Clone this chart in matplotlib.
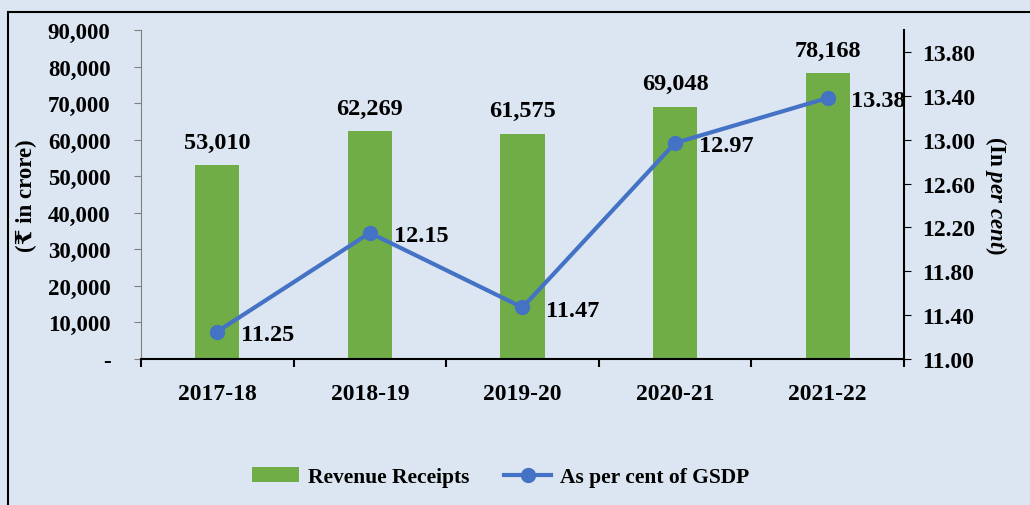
import numpy as np
import matplotlib.pyplot as plt
from matplotlib.patches import Rectangle
from matplotlib.ticker import FuncFormatter, FixedLocator

plt.rcParams['font.family'] = ['Liberation Serif', 'DejaVu Serif']
plt.rcParams['font.weight'] = 'bold'
plt.rcParams['mathtext.fontset'] = 'custom'
plt.rcParams['mathtext.it'] = 'Liberation Serif:italic:bold'
plt.rcParams['mathtext.rm'] = 'Liberation Serif:bold'

years = ['2017-18', '2018-19', '2019-20', '2020-21', '2021-22']
receipts = [53010, 62269, 61575, 69048, 78168]
pct_gsdp = [11.25, 12.15, 11.47, 12.97, 13.38]

bg = '#DCE6F2'
green = '#70AD47'
blue = '#4472C4'

fig = plt.figure(figsize=(10.30, 5.06), dpi=100, facecolor=bg)
fig.patches.append(Rectangle((8 / 1030, -0.05), 1.2, 1.05 - 13 / 506,
                             transform=fig.transFigure, fill=False,
                             edgecolor='black', linewidth=1.5))

ax = fig.add_axes([141 / 1030, 1 - 360 / 506, 763 / 1030, 329 / 506])
ax.set_facecolor(bg)
x = np.arange(len(years))
bars = ax.bar(x, receipts, width=0.29, color=green, label='Revenue Receipts', zorder=2)
ax.set_xlim(-0.5, len(years) - 0.5)
ax.set_ylim(0, 90000)
ax.set_yticks(np.arange(0, 90001, 10000))
ax.yaxis.set_major_formatter(FuncFormatter(lambda v, p: '-' if v == 0 else f'{int(v):,}'))
ax.set_xticks(x)
ax.set_xticklabels(years)
ax.xaxis.set_minor_locator(FixedLocator(np.arange(-0.5, len(years), 1)))
ax.tick_params(axis='x', which='major', length=0, pad=17, labelsize=17)
ax.tick_params(axis='x', which='minor', length=6, width=1.5, direction='out')
ax.tick_params(axis='y', length=5, color='#808080', labelsize=16.5, pad=17)
for s in ['top', 'right']:
    ax.spines[s].set_visible(False)
ax.spines['left'].set_color('#808080')
ax.spines['bottom'].set_linewidth(1.5)
ax.set_ylabel('(₹ in crore)', fontsize=16.5, fontweight='bold', labelpad=8)

for xi, v in zip(x, receipts):
    ax.annotate(f'{v:,}', (xi, v), xytext=(0, 9), textcoords='offset points',
                ha='center', va='bottom', fontsize=17.5, fontweight='bold')

ax2 = ax.twinx()
ax2.set_ylim(11.0, 14.0)
ax2.set_yticks(np.arange(11.0, 13.81, 0.4))
ax2.yaxis.set_major_formatter(FuncFormatter(lambda v, p: f'{v:.2f}'))
ax2.tick_params(axis='y', length=5, labelsize=17, pad=8)
for s in ['top', 'left', 'bottom']:
    ax2.spines[s].set_visible(False)
ax2.spines['right'].set_linewidth(1.5)
line, = ax2.plot(x, pct_gsdp, color=blue, linewidth=3, marker='o', markersize=10,
                 label='As per cent of GSDP', zorder=3)
for xi, v in zip(x, pct_gsdp):
    ax2.annotate(f'{v:.2f}', (xi, v), xytext=(17, -2), textcoords='offset points',
                 ha='left', va='center', fontsize=17.5, fontweight='bold')
ax2.set_ylabel(r'(In $\mathit{per\ cent}$)', fontsize=16.5, fontweight='bold',
               rotation=270, labelpad=24)

fig.legend([bars, line], ['Revenue Receipts', 'As per cent of GSDP'],
           loc='center', bbox_to_anchor=(0.486, 1 - 478 / 506), ncol=2, frameon=False,
           prop={'size': 15.5, 'weight': 'bold'}, handlelength=2.2, columnspacing=1.6,
           handletextpad=0.4)

fig.savefig('out.png', dpi=100, facecolor=bg)
